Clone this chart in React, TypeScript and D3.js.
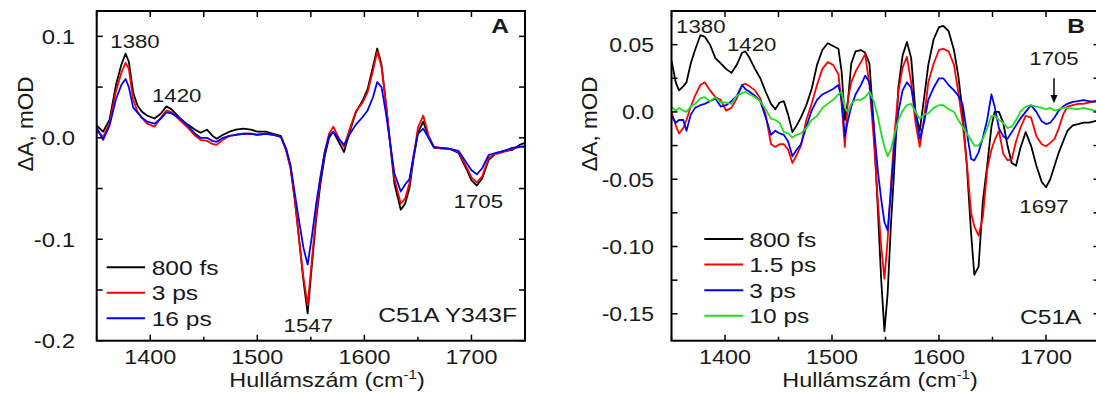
import React from "react";
import * as d3 from "d3";

// ---------- Panel A data (C51A Y343F) ----------
const wavenumbersA = [1350,1356,1362,1368,1373,1377,1380,1384,1388,1392,1397,1404,1410,1415,1420,1428,1435,1442,1447,1453,1458,1462,1468,1474,1480,1487,1494,1500,1508,1515,1522,1527,1531,1535,1539,1543,1547,1551,1555,1559,1563,1567,1571,1576,1581,1586,1592,1598,1603,1608,1612,1616,1620,1624,1628,1634,1638,1642,1646,1650,1655,1660,1665,1672,1680,1688,1695,1700,1705,1710,1716,1722,1730,1738,1745,1750];
const a800fs = [0.012,0.006,0.018,0.052,0.072,0.083,0.075,0.045,0.032,0.026,0.022,0.019,0.024,0.031,0.028,0.019,0.013,0.008,0.005,0.008,0.002,-0.001,0.003,0.006,0.008,0.009,0.008,0.006,0.006,0.004,0.002,-0.012,-0.029,-0.06,-0.1,-0.14,-0.173,-0.125,-0.08,-0.045,-0.018,0.0,0.006,-0.004,-0.014,0.005,0.025,0.036,0.048,0.07,0.088,0.072,0.035,-0.005,-0.045,-0.071,-0.065,-0.05,-0.02,0.005,0.016,0.0,-0.01,-0.01,-0.011,-0.015,-0.03,-0.042,-0.047,-0.04,-0.022,-0.016,-0.013,-0.012,-0.007,-0.005];
const a3ps = [0.007,0.001,0.014,0.046,0.064,0.074,0.068,0.038,0.026,0.02,0.014,0.011,0.02,0.027,0.025,0.017,0.01,0.002,-0.002,-0.003,-0.006,-0.007,-0.002,0.002,0.003,0.004,0.004,0.003,0.004,0.003,0.001,-0.013,-0.03,-0.062,-0.1,-0.137,-0.165,-0.12,-0.075,-0.04,-0.014,0.004,0.011,0.0,-0.009,0.008,0.026,0.034,0.045,0.066,0.085,0.07,0.035,-0.004,-0.04,-0.065,-0.06,-0.045,-0.018,0.01,0.022,0.002,-0.009,-0.011,-0.011,-0.014,-0.028,-0.039,-0.044,-0.038,-0.02,-0.016,-0.014,-0.011,-0.009,-0.008];
const a16ps = [0.01,-0.002,0.012,0.038,0.052,0.058,0.05,0.03,0.025,0.02,0.016,0.014,0.019,0.025,0.024,0.019,0.012,0.004,0.0,0.0,-0.003,-0.004,0.0,0.002,0.003,0.004,0.004,0.003,0.004,0.003,0.001,-0.011,-0.027,-0.055,-0.082,-0.108,-0.125,-0.097,-0.065,-0.038,-0.014,0.002,0.006,-0.001,-0.007,0.003,0.013,0.02,0.027,0.04,0.055,0.05,0.025,-0.005,-0.035,-0.053,-0.046,-0.041,-0.017,0.004,0.009,0.0,-0.009,-0.01,-0.011,-0.013,-0.024,-0.032,-0.036,-0.03,-0.017,-0.015,-0.013,-0.01,-0.009,-0.009];

// ---------- Panel B data (C51A) ----------
const wavenumbersB = [1350,1354,1357,1361,1364,1368,1372,1377,1381,1386,1391,1396,1401,1406,1411,1416,1419,1423,1428,1433,1438,1443,1447,1451,1455,1459,1463,1467,1471,1476,1481,1486,1491,1496,1501,1506,1509,1512,1515,1518,1522,1527,1531,1535,1539,1543,1546,1549,1552,1555,1558,1562,1566,1570,1574,1578,1582,1586,1590,1595,1600,1604,1609,1614,1618,1622,1626,1630,1633,1637,1641,1645,1649,1652,1656,1660,1664,1668,1672,1676,1681,1686,1691,1696,1700,1704,1708,1712,1716,1720,1725,1730,1735,1740,1745,1750];
const b800fs = [0.038,0.022,0.016,0.019,0.022,0.036,0.046,0.057,0.056,0.05,0.04,0.036,0.032,0.029,0.035,0.044,0.045,0.04,0.032,0.025,0.015,0.006,0.002,0.007,0.008,-0.002,-0.015,-0.01,-0.004,0.005,0.017,0.035,0.046,0.051,0.049,0.047,0.03,-0.006,0.009,0.036,0.045,0.046,0.044,0.036,-0.01,-0.075,-0.125,-0.163,-0.135,-0.085,-0.045,0.018,0.042,0.052,0.04,0.0,-0.014,0.01,0.035,0.054,0.063,0.064,0.06,0.046,0.027,0.0,-0.04,-0.09,-0.121,-0.115,-0.066,-0.04,-0.011,0.0,0.0,-0.008,-0.025,-0.038,-0.04,-0.027,-0.015,-0.025,-0.04,-0.052,-0.056,-0.05,-0.04,-0.03,-0.022,-0.014,-0.01,-0.009,-0.008,-0.008,-0.007,-0.006];
const b15ps = [0.0,-0.01,-0.016,-0.012,-0.006,0.004,0.012,0.02,0.022,0.016,0.011,0.009,0.001,0.003,0.01,0.02,0.021,0.019,0.016,0.01,-0.002,-0.024,-0.026,-0.024,-0.024,-0.028,-0.038,-0.032,-0.025,-0.006,0.006,0.02,0.032,0.037,0.035,0.028,0.006,-0.026,0.01,0.022,0.03,0.037,0.043,0.02,-0.02,-0.068,-0.1,-0.124,-0.095,-0.055,-0.02,0.015,0.033,0.041,0.022,-0.008,-0.026,-0.005,0.022,0.036,0.046,0.047,0.045,0.035,0.015,-0.008,-0.038,-0.075,-0.085,-0.092,-0.078,-0.043,-0.028,-0.021,-0.014,-0.031,-0.036,-0.035,-0.022,-0.012,-0.003,-0.004,-0.018,-0.024,-0.0255,-0.023,-0.02,-0.012,-0.002,0.004,0.005,0.006,0.006,0.007,0.008,0.0087];
const b3ps = [-0.003,-0.008,-0.006,-0.006,-0.014,-0.002,0.003,0.005,0.006,0.008,0.01,0.004,0.005,0.008,0.012,0.02,0.017,0.015,0.012,0.008,-0.004,-0.017,-0.014,-0.016,-0.017,-0.022,-0.033,-0.028,-0.024,-0.011,0.001,0.009,0.013,0.015,0.017,0.02,0.009,-0.018,-0.006,0.004,0.013,0.02,0.027,0.022,-0.01,-0.045,-0.065,-0.082,-0.088,-0.06,-0.03,0.0,0.016,0.022,0.018,0.0,-0.02,-0.008,0.009,0.018,0.025,0.025,0.02,0.016,0.012,0.006,-0.015,-0.035,-0.036,-0.03,-0.019,-0.006,0.013,0.004,-0.012,-0.018,-0.02,-0.015,-0.01,-0.005,0.0,0.005,0.0,-0.007,-0.009,-0.008,-0.004,0.001,0.004,0.006,0.0074,0.008,0.0087,0.008,0.0074,0.0087];
const b10ps = [0.004,0.001,0.003,0.001,0.0,0.004,0.006,0.01,0.011,0.008,0.011,0.007,0.007,0.006,0.012,0.014,0.015,0.013,0.011,0.008,0.002,-0.005,-0.006,-0.008,-0.015,-0.016,-0.019,-0.017,-0.016,-0.012,-0.006,-0.003,0.003,0.006,0.009,0.013,0.015,0.003,0.0,0.006,0.009,0.009,0.011,0.015,0.008,-0.004,-0.016,-0.026,-0.033,-0.028,-0.018,-0.006,0.001,0.005,0.006,0.0,-0.005,-0.002,-0.001,0.003,0.005,0.005,0.002,0.0,-0.006,-0.011,-0.016,-0.021,-0.025,-0.025,-0.02,-0.012,-0.003,-0.003,-0.006,-0.008,-0.012,-0.011,-0.006,0.0,0.004,0.005,0.004,0.003,0.002,0.003,0.001,0.002,0.003,0.003,0.0025,0.002,0.003,0.002,0.001,0.001];

const legendA = ["800 fs", "3 ps", "16 ps"];
const legendB = ["800 fs", "1.5 ps", "3 ps", "10 ps"];
const colorsA = ["#000000", "#ff0000", "#0000ff"];
const colorsB = ["#000000", "#ff0000", "#0000ff", "#1ee01e"];
const xTicks = [1400, 1500, 1600, 1700];
const xMinorTicks = [1350, 1450, 1550, 1650, 1750];
const yTicksA = [0.1, 0.0, -0.1, -0.2];
const yTickLabelsA = ["0.1", "0.0", "-0.1", "-0.2"];
const yMinorA = [0.05, -0.05, -0.15];
const yTicksB = [0.05, 0.0, -0.05, -0.1, -0.15];
const yTickLabelsB = ["0.05", "0.0", "-0.05", "-0.10", "-0.15"];
const yMinorB = [0.025, -0.025, -0.075, -0.125];

const FONT = "'Liberation Sans', Arial, Helvetica, sans-serif";
const TXT = "#1a1a1a";
const SX = 1.17;

function T({ x, y, anchor = "start", size = 20, bold = false, sx = SX, children }: any) {
  return (
    <text
      transform={`translate(${x},${y}) scale(${sx},1)`}
      textAnchor={anchor}
      fontSize={size}
      fontWeight={bold ? "bold" : "normal"}
      fontFamily={FONT}
      fill={TXT}
    >
      {children}
    </text>
  );
}

function Panel({ id, left, right, top, bottom, yDomain, xs, series, colors, yTicks, yLabels, yMinor, labelRight, ySx }: any) {
  const x = d3.scaleLinear().domain([1350, 1750]).range([left, right]);
  const y = d3.scaleLinear().domain(yDomain).range([bottom, top]);
  const line = d3.line<number>().x((_, i) => x(xs[i])).y((d) => y(d));
  const tk = 6;
  return (
    <g>
      <defs>
        <clipPath id={`clip-${id}`}>
          <rect x={left} y={top} width={right - left} height={bottom - top} />
        </clipPath>
      </defs>
      <g clipPath={`url(#clip-${id})`}>
        {series.map((s: number[], i: number) => (
          <path key={i} d={line(s) || ""} fill="none" stroke={colors[i]} strokeWidth={1.8} strokeLinejoin="round" />
        ))}
      </g>
      <rect x={left} y={top} width={right - left} height={bottom - top} fill="none" stroke="#000" strokeWidth={2} />
      {xTicks.map((t: number) => (
        <g key={`xt${t}`}>
          <line x1={x(t)} x2={x(t)} y1={bottom} y2={bottom - tk} stroke="#000" strokeWidth={1.5} />
          <line x1={x(t)} x2={x(t)} y1={top} y2={top + tk} stroke="#000" strokeWidth={1.5} />
          <T x={x(t)} y={363.5} anchor="middle" size={20}>{String(t)}</T>
        </g>
      ))}
      {xMinorTicks.map((t: number) => (
        <g key={`xm${t}`}>
          <line x1={x(t)} x2={x(t)} y1={bottom} y2={bottom - 4} stroke="#000" strokeWidth={1.5} />
          <line x1={x(t)} x2={x(t)} y1={top} y2={top + tk} stroke="#000" strokeWidth={1.5} />
        </g>
      ))}
      {yTicks.map((t: number, i: number) => (
        <g key={`yt${i}`}>
          <line x1={left} x2={left + tk} y1={y(t)} y2={y(t)} stroke="#000" strokeWidth={1.5} />
          <line x1={right} x2={right - tk} y1={y(t)} y2={y(t)} stroke="#000" strokeWidth={1.5} />
          <T x={labelRight} y={y(t) + 7.5} anchor="end" size={20.5} sx={ySx}>{yLabels[i]}</T>
        </g>
      ))}
      {yMinor.map((t: number, i: number) => (
        <g key={`ym${i}`}>
          <line x1={left} x2={left + tk} y1={y(t)} y2={y(t)} stroke="#000" strokeWidth={1.5} />
          <line x1={right} x2={right - tk} y1={y(t)} y2={y(t)} stroke="#000" strokeWidth={1.5} />
        </g>
      ))}
    </g>
  );
}

function XLabel({ cx }: any) {
  return (
    <text
      transform={`translate(${cx},387) scale(${SX},1)`}
      textAnchor="middle"
      fontSize={20}
      fontFamily={FONT}
      fill={TXT}
    >
      Hullámszám (cm<tspan fontSize={13} dy={-8}>-1</tspan><tspan dy={8}>)</tspan>
    </text>
  );
}

function YLabel({ cx, cy }: any) {
  return (
    <text
      transform={`translate(${cx},${cy}) rotate(-90)`}
      textAnchor="middle"
      fontSize={22.5}
      fontFamily={FONT}
      fill={TXT}
    >
      ΔA, mOD
    </text>
  );
}

export default function App() {
  const seriesA = [a800fs, a3ps, a16ps];
  const seriesB = [b800fs, b15ps, b3ps, b10ps];
  return (
    <svg
      width={1096}
      height={396}
      style={{ position: "absolute", left: 0, top: 0, background: "#fff" }}
      xmlns="http://www.w3.org/2000/svg"
    >
      <rect x={0} y={0} width={1096} height={396} fill="#fff" />
      <Panel
        id="A" left={96.7} right={525} top={11} bottom={340.7}
        yDomain={[-0.2, 0.125]} xs={wavenumbersA} series={seriesA} colors={colorsA}
        yTicks={yTicksA} yLabels={yTickLabelsA} yMinor={yMinorA} labelRight={75} ySx={1.17}
      />
      <Panel
        id="B" left={671.5} right={1099.5} top={11} bottom={340.7}
        yDomain={[-0.17, 0.075]} xs={wavenumbersB} series={seriesB} colors={colorsB}
        yTicks={yTicksB} yLabels={yTickLabelsB} yMinor={yMinorB} labelRight={654} ySx={1.12}
      />
      <YLabel cx={32.5} cy={124} />
      <YLabel cx={597} cy={124} />
      <XLabel cx={327} />
      <XLabel cx={880} />

      {/* Panel A annotations */}
      <T x={135} y={48} anchor="middle" size={19}>1380</T>
      <T x={176.7} y={101.5} anchor="middle" size={19}>1420</T>
      <T x={308.3} y={332} anchor="middle" size={19}>1547</T>
      <T x={478.3} y={208} anchor="middle" size={19}>1705</T>
      <T x={517} y={321.7} anchor="end" size={21}>C51A Y343F</T>
      <T x={500} y={33.3} anchor="middle" size={21} bold>A</T>

      {/* Panel A legend */}
      {legendA.map((l, i) => (
        <g key={l}>
          <line x1={106.7} x2={145} y1={267.3 + i * 25.5} y2={267.3 + i * 25.5} stroke={colorsA[i]} strokeWidth={2} />
          <T x={151.7} y={267.3 + i * 25.5 + 7.5} size={21}>{l}</T>
        </g>
      ))}

      {/* Panel B annotations */}
      <T x={700.8} y={33.3} anchor="middle" size={19}>1380</T>
      <T x={751.7} y={50.7} anchor="middle" size={19}>1420</T>
      <T x={1054} y={65} anchor="middle" size={19}>1705</T>
      <line x1={1054} x2={1054} y1={78.3} y2={96} stroke="#000" strokeWidth={1.5} />
      <path d="M1050.5,95 L1057.5,95 L1054,103.3 Z" fill="#000" />
      <T x={1044} y={213} anchor="middle" size={19}>1697</T>
      <T x={1020} y={324} size={21}>C51A</T>
      <T x={1076} y={33.3} anchor="middle" size={21} bold>B</T>

      {/* Panel B legend */}
      {legendB.map((l, i) => (
        <g key={l}>
          <line x1={704.3} x2={743.3} y1={239 + i * 25.6} y2={239 + i * 25.6} stroke={colorsB[i]} strokeWidth={2} />
          <T x={749.3} y={239 + i * 25.6 + 7.5} size={21}>{l}</T>
        </g>
      ))}
    </svg>
  );
}
